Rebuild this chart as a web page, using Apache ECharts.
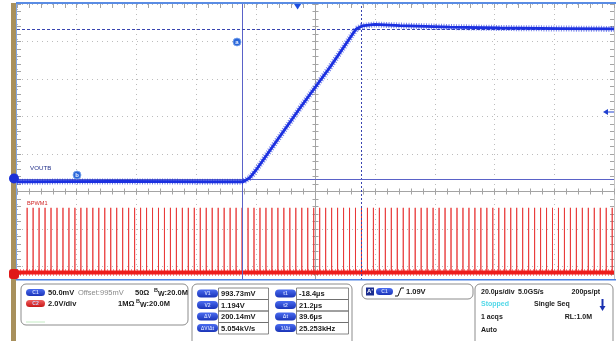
<!DOCTYPE html>
<html><head><meta charset="utf-8">
<script src="https://cdn.jsdelivr.net/npm/echarts@6/dist/echarts.min.js"></script>
<style>html,body{margin:0;padding:0;background:#fff}#c{width:616px;height:341px}</style>
</head><body><div id="c"></div>
<script>
// ---------- DATA ----------
// Graticule (divisions): 10 horizontal, center axes at x=0 / y=0
const gratX = [-5, 5];
const gratY = [-3, 5];
// Time axis (µs) spanning the screen, C1 axis (mV), C2 axis (V)
const timeRange = [-94, 106];
const c1Range = [828, 1228];
const c2Range = [-1.68, 14.32];
// VOUTB (C1) trace: time µs / value mV
const voutTimes  = [-94, -60, -30, -18.2, -17.9, -15.9, -13.9, 0.8, 10.9, 19.6, 21.6, 25.9, 34.3, 51.1, 67.8, 87.9, 106];
const voutValues = [991, 991.5, 991, 991, 991, 996.7, 1006.7, 1089.3, 1144, 1194.7, 1198.7, 1200.7, 1199.3, 1197.3, 1196, 1195.3, 1194.7];
// BPWM1 (C2): pulse times µs, levels V
const pwmPulseTimes = [-90.6,-88.6,-86.6,-84.6,-82.6,-80.6,-78.6,-76.6,-74.6,-72.6,-70.6,-68.6,-66.6,-64.6,-62.6,-60.6,-58.6,-56.6,-54.6,-52.6,-50.6,-48.6,-46.6,-44.6,-42.6,-40.6,-38.6,-36.6,-34.6,-32.6,-30.6,-28.6,-26.6,-24.6,-22.6,-20.6,-18.6,-16.6,-14.6,-12.6,-10.6,-8.6,-6.6,-4.6,-2.6,-0.6,1.4,3.4,5.4,7.4,9.4,11.4,13.4,15.4,17.4,19.4,21.4,23.4,25.4,27.4,29.4,31.4,33.4,35.4,37.4,39.4,41.4,43.4,45.4,47.4,49.4,51.4,53.4,55.4,57.4,59.4,61.4,63.4,65.4,67.4,69.4,71.4,73.4,75.4,77.4,79.4,81.4,83.4,85.4,87.4,89.4,91.4,93.4,95.4,97.4,99.4,101.4,103.4,105.4];
const pwmLow = 0;
const pwmHigh = 3.45;
// Cursors
const cursorTimes = [-18.4, 21.2];     // µs
const cursorLevels = [993.73, 1194];   // mV
const triggerTime = 0;
// Readout texts
const ch1Texts = ['C1', '50.0mV', 'Offset:995mV', '50Ω', '20.0M'];
const ch2Texts = ['C2', '2.0V/div', '1MΩ', '20.0M'];
const vLabels = ['V1', 'V2', 'ΔV', 'ΔV/Δt'];
const vValues = ['993.73mV', '1.194V', '200.14mV', '5.054kV/s'];
const tLabels = ['t1', 't2', 'Δt', '1/Δt'];
const tValues = ['-18.4µs', '21.2µs', '39.6µs', '25.253kHz'];
const trigTexts = ['C1', '1.09V'];
const acqTexts = [['20.0µs/div', '5.0GS/s', '200ps/pt'], ['Stopped', 'Single Seq'], ['1 acqs', 'RL:1.0M'], ['Auto']];
const traceNames = ['VOUTB', 'BPWM1'];

// ---------- BUILD ----------
const voutData = voutTimes.map((t, i) => [t, voutValues[i]]);
const pwmData = [];
pwmPulseTimes.forEach(t => { pwmData.push([t, pwmLow], [t, pwmHigh], [t, pwmLow]); });
const pwmBase = [[timeRange[0], pwmLow], [timeRange[1], pwmLow]];

const FONT = 'Liberation Sans, Arial, sans-serif';
const FS = 7.5;
const BLUE = '#1b30e0';
const RED = '#ee1c1c';
const GRIDC = '#bcbcbc';
const AXC = '#a4a4a4';

const GRID_W = 597, GRID_H = 300;

function gratAxis(extra) {
  return Object.assign({
    type: 'value', min: gratX[0], max: gratX[1], interval: 1,
    axisLabel: { show: false },
    axisLine: { show: false, onZero: false },
    axisTick: { show: true, length: 3, inside: false, lineStyle: { color: AXC } },
    minorTick: { show: true, splitNumber: 5, length: 3, lineStyle: { color: AXC } },
    splitLine: { show: false }
  }, extra);
}
const tickIn = (len) => ({ axisTick: { show: true, length: len, inside: true, lineStyle: { color: AXC } }, minorTick: { show: true, splitNumber: 5, length: len, lineStyle: { color: AXC } } });

// center offsets (negative offset moves the axis into the grid)
const xCenterOffset = -GRID_H * (0 - gratY[0]) / (gratY[1] - gratY[0]);
const yCenterOffset = -GRID_W * (0 - gratX[0]) / (gratX[1] - gratX[0]);

const xAxes = [
  gratAxis({ position: 'bottom', offset: xCenterOffset, axisLine: { show: true, onZero: false, lineStyle: { color: AXC, width: 1 } },
             splitLine: { show: true, lineStyle: { color: GRIDC, type: [1, 4], width: 1 } } }),
  gratAxis(Object.assign({ position: 'bottom', offset: xCenterOffset }, tickIn(3))),
  gratAxis(Object.assign({ position: 'top' }, tickIn(4))),
  { type: 'value', min: timeRange[0], max: timeRange[1], show: false }
];
function gratYAxis(extra) {
  return gratAxis(Object.assign({ min: gratY[0], max: gratY[1] }, extra));
}
const yAxes = [
  gratYAxis({ position: 'left', offset: yCenterOffset, axisLine: { show: true, onZero: false, lineStyle: { color: AXC, width: 1 } },
              splitLine: { show: true, lineStyle: { color: GRIDC, type: [1, 4], width: 1 } } }),
  gratYAxis(Object.assign({ position: 'left', offset: yCenterOffset }, tickIn(3))),
  gratYAxis(Object.assign({ position: 'left' }, tickIn(4))),
  gratYAxis(Object.assign({ position: 'right', axisLine: { show: true, onZero: false, lineStyle: { color: '#c4c4c4' } } }, tickIn(4))),
  { type: 'value', min: c1Range[0], max: c1Range[1], show: false },
  { type: 'value', min: c2Range[0], max: c2Range[1], show: false }
];

// ---- graphic helpers ----
const G = [];
function rect(x, y, w, h, fill) { G.push({ type: 'rect', shape: { x, y, width: w, height: h }, style: { fill }, z: 100, silent: true }); }
function box(x, y, w, h) { G.push({ type: 'rect', shape: { x, y, width: w, height: h, r: 5 }, style: { fill: '#fff', stroke: '#8c8c8c', lineWidth: 1 }, z: 101, silent: true }); }
function txt(x, y, s, o) {
  o = o || {};
  G.push({ type: 'text', x, y, z: 103, silent: true, style: { text: s, fill: o.color || '#1a1a1a', font: (o.weight || 'bold') + ' ' + (o.size || FS) + 'px ' + FONT, align: o.align || 'left', verticalAlign: 'middle', rich: o.rich } });
}
function pill(x, y, w, h, color, s) {
  G.push({ type: 'rect', shape: { x, y, width: w, height: h, r: h / 2 }, z: 102, silent: true,
    style: { fill: new echarts.graphic.LinearGradient(0, 0, 0, 1, [{ offset: 0, color: color[0] }, { offset: 1, color: color[1] }]) } });
  G.push({ type: 'text', x: x + w / 2, y: y + h / 2 + 0.5, z: 103, silent: true, style: { text: s, fill: '#c8d4ff', font: 'bold 5px ' + FONT, align: 'center', verticalAlign: 'middle' } });
}
function bw(x, y, val) {
  txt(x, y, '{s|B}{w|W}{n|:' + val + '}', { rich: {
    s: { font: 'bold 5.5px ' + FONT, fill: '#1a1a1a', padding: [0, 0, 5, 0] },
    w: { font: 'bold 7px ' + FONT, fill: '#1a1a1a', padding: [3, 0, 0, 0] },
    n: { font: 'bold ' + FS + 'px ' + FONT, fill: '#1a1a1a' } } });
}
const PBLUE = ['#4a6cf0', '#1a34b8'];
const PRED = ['#f06060', '#c81818'];

// left margin + brown strip
rect(0, 0, 11, 341, '#ffffff');
rect(11, 3, 5, 338, '#a8905c');
rect(16, 3, 1, 277, '#7fa6e6');
rect(16, 2, 600, 2, '#5a8ce4');
// bottom panel
rect(16, 279, 600, 62, '#ffffff');
rect(16, 279, 600, 1.5, '#4c82e4');
// channel markers
G.push({ type: 'circle', shape: { cx: 14, cy: 178.5, r: 5 }, style: { fill: '#1b30d8' }, z: 110, silent: true });
txt(14, 179, '1', { color: '#fff', size: 7, align: 'center' });
G.push({ type: 'rect', shape: { x: 9, y: 269, width: 10, height: 10, r: 3 }, style: { fill: '#e01818' }, z: 110, silent: true });
txt(14, 274.5, '2', { color: '#fff', size: 7, align: 'center' });
// trace names
G.push({ type: 'text', x: 30, y: 168.5, z: 50, silent: true, style: { text: traceNames[0], fill: '#23308a', font: '6.2px ' + FONT, verticalAlign: 'middle' } });
G.push({ type: 'text', x: 27, y: 203, z: 50, silent: true, style: { text: traceNames[1], fill: '#d02828', font: '5.6px ' + FONT, verticalAlign: 'middle' } });
// cursor handles a / b
[['a', 237, 42], ['b', 77, 175]].forEach(c => {
  G.push({ type: 'circle', shape: { cx: c[1], cy: c[2], r: 4 }, style: { fill: '#2a66d8', stroke: '#7fa8f0', lineWidth: 0.8 }, z: 60, silent: true });
  G.push({ type: 'text', x: c[1], y: c[2], z: 61, silent: true, style: { text: c[0], fill: '#e8f0ff', font: 'bold 6px ' + FONT, align: 'center', verticalAlign: 'middle' } });
});
// trigger level arrow (right)
G.push({ type: 'polygon', shape: { points: [[603, 112], [608, 109], [608, 115]] }, style: { fill: '#2040d0' }, z: 60, silent: true });
G.push({ type: 'line', shape: { x1: 607, y1: 112, x2: 614, y2: 112 }, style: { stroke: '#2040d0', lineWidth: 1 }, z: 60, silent: true });

// box 1: channel settings
box(21, 284, 167, 41);
pill(26, 289, 19, 7, PBLUE, ch1Texts[0]);
txt(48, 293, ch1Texts[1]);
txt(78, 293, ch1Texts[2], { color: '#8a8a8a', weight: 'normal' });
txt(135, 293, ch1Texts[3]);
bw(154, 293, ch1Texts[4]);
pill(26, 300, 19, 7, PRED, ch2Texts[0]);
txt(48, 304, ch2Texts[1]);
txt(118, 304, ch2Texts[2]);
bw(136, 304, ch2Texts[3]);
G.push({ type: 'line', shape: { x1: 26, y1: 322, x2: 45, y2: 322 }, style: { stroke: '#c4ecc4', lineWidth: 1 }, z: 102, silent: true });

// box 2: cursor readouts
box(192, 284, 160, 62);
const rowY = [288, 299.5, 311, 322.5];
rowY.forEach((y, i) => {
  pill(197, y + 1.5, 21, 8, PBLUE, vLabels[i]);
  G.push({ type: 'rect', shape: { x: 218.5, y: y, width: 50, height: 11.5 }, style: { fill: 'none', stroke: '#6a6a6a', lineWidth: 0.8 }, z: 102, silent: true });
  txt(221, y + 6, vValues[i]);
  pill(275, y + 1.5, 21, 8, PBLUE, tLabels[i]);
  G.push({ type: 'rect', shape: { x: 296.5, y: y, width: 52, height: 11.5 }, style: { fill: 'none', stroke: '#6a6a6a', lineWidth: 0.8 }, z: 102, silent: true });
  txt(299, y + 6, tValues[i]);
});

// box 3: trigger
box(362, 284, 111, 15);
G.push({ type: 'rect', shape: { x: 366, y: 287.5, width: 8, height: 8 }, style: { fill: '#1c2e90' }, z: 102, silent: true });
txt(370, 291.8, "A'", { color: '#ffffff', size: 6, align: 'center' });
pill(376, 288, 17, 7, PBLUE, trigTexts[0]);
G.push({ type: 'polyline', shape: { points: [[395, 296], [398, 296], [401, 288], [404, 288]] }, style: { stroke: '#1a1a1a', lineWidth: 1, fill: null }, z: 103, silent: true });
txt(406, 292, trigTexts[1]);

// box 4: acquisition
box(475, 284, 138, 62);
txt(481, 292, acqTexts[0][0], { size: 7 });
txt(518, 292, acqTexts[0][1], { size: 7 });
txt(600, 292, acqTexts[0][2], { align: 'right', size: 7 });
txt(481, 304.5, acqTexts[1][0], { color: '#52d8e8', size: 7 });
txt(534, 304.5, acqTexts[1][1], { size: 7 });
txt(481, 317.5, acqTexts[2][0], { size: 7 });
txt(592, 317.5, acqTexts[2][1], { align: 'right', size: 7 });
txt(481, 330.5, acqTexts[3][0], { size: 7 });
G.push({ type: 'line', shape: { x1: 602.5, y1: 299, x2: 602.5, y2: 307 }, style: { stroke: '#1a30b0', lineWidth: 2 }, z: 103, silent: true });
G.push({ type: 'polygon', shape: { points: [[599.5, 306], [605.5, 306], [602.5, 311]] }, style: { fill: '#1a30b0' }, z: 103, silent: true });

const option = {
  animation: false,
  backgroundColor: '#ffffff',
  grid: { left: 17, top: 4, width: GRID_W, height: GRID_H, containLabel: false },
  xAxis: xAxes,
  yAxis: yAxes,
  series: [
    { // cursors
      type: 'line', xAxisIndex: 3, yAxisIndex: 4, data: [], z: 1, silent: true,
      markLine: {
        silent: true, symbol: 'none', label: { show: false }, animation: false,
        data: [
          { xAxis: cursorTimes[0], lineStyle: { color: '#5a62c8', width: 1, type: 'solid' } },
          { xAxis: cursorTimes[1], lineStyle: { color: '#3844b0', width: 1, type: [2, 2] } },
          { yAxis: cursorLevels[0], lineStyle: { color: '#5a62c8', width: 1, type: 'solid' } },
          { yAxis: cursorLevels[1], lineStyle: { color: '#3844b0', width: 1, type: [3, 2] } }
        ]
      },
      markPoint: {
        silent: true, animation: false, label: { show: false },
        data: [{ coord: [triggerTime, c1Range[1] - 2.5], symbol: 'triangle', symbolRotate: 180, symbolSize: [9, 7], itemStyle: { color: '#1e4ee0' } }]
      }
    },
    { type: 'line', xAxisIndex: 3, yAxisIndex: 5, data: pwmData, showSymbol: false, z: 3, silent: true,
      lineStyle: { color: '#e83434', width: 1, opacity: 0.85 } },
    { type: 'line', xAxisIndex: 3, yAxisIndex: 5, data: pwmBase, showSymbol: false, z: 4, silent: true,
      lineStyle: { color: RED, width: 4 } },
    { type: 'line', xAxisIndex: 3, yAxisIndex: 5, data: pwmBase, showSymbol: false, z: 4, silent: true,
      lineStyle: { color: RED, width: 7, type: [1, 2], opacity: 0.5 } },
    { type: 'line', xAxisIndex: 3, yAxisIndex: 4, data: voutData, showSymbol: false, z: 5, silent: true,
      lineStyle: { color: BLUE, width: 6, type: [1, 1.5], opacity: 0.6 } },
    { type: 'line', xAxisIndex: 3, yAxisIndex: 4, data: voutData, showSymbol: false, z: 6, silent: true,
      lineStyle: { color: BLUE, width: 2.8 } }
  ],
  graphic: { elements: G }
};
const chart = echarts.init(document.getElementById('c'), null, { renderer: 'canvas' });
chart.setOption(option);
</script></body></html>
